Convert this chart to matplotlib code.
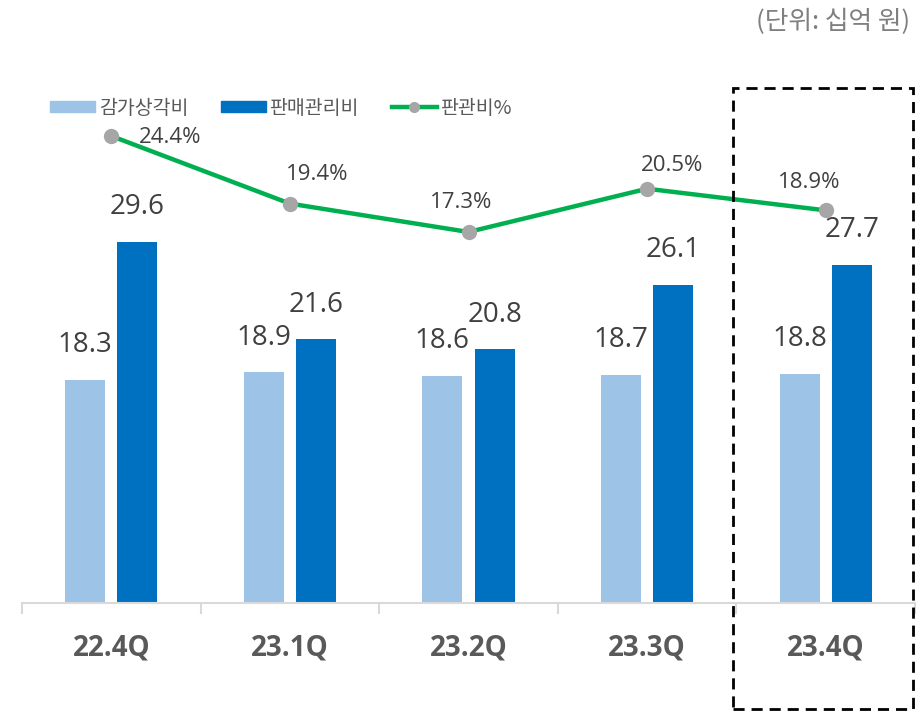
import matplotlib
matplotlib.use("Agg")
import matplotlib.pyplot as plt
from matplotlib.patches import Patch, Rectangle
from matplotlib.lines import Line2D
import numpy as np

plt.rcParams['font.family'] = ['Noto Sans CJK KR', 'DejaVu Sans']

categories = ["22.4Q", "23.1Q", "23.2Q", "23.3Q", "23.4Q"]
depreciation = [18.3, 18.9, 18.6, 18.7, 18.8]
sga = [29.6, 21.6, 20.8, 26.1, 27.7]
sga_ratio = [24.4, 19.4, 17.3, 20.5, 18.9]
series_names = ["감가상각비", "판매관리비", "판관비%"]
unit_text = "(단위: 십억 원)"

# label offsets for the ratio labels (points)
ratio_offsets = [(42, -1), (20, 21), (-5, 21), (18, 17), (-12, 20)]

W, H = 920, 713
fig = plt.figure(figsize=(W / 100, H / 100), dpi=100)

ax_left, ax_right = 22, 915
ax_bottom = 603
ax = fig.add_axes([ax_left / W, (H - ax_bottom) / H, (ax_right - ax_left) / W, ax_bottom / H])
ax2 = ax.twinx()

x = np.arange(len(categories))
bw = 0.224
off = 0.146
light = "#9dc3e6"
dark = "#0070c0"
green = "#00b050"

b1 = ax.bar(x - off, depreciation, bw, color=light, zorder=2)
b2 = ax.bar(x + off, sga, bw, color=dark, zorder=2)

px_per_unit = 12.2
ax.set_ylim(0, ax_bottom / px_per_unit)
ax.set_xlim(-0.5, len(categories) - 0.5)

# secondary axis for ratio
px_per_pct = 13.52
y_top_pix = 136
top2 = sga_ratio[0] + y_top_pix / px_per_pct
bot2 = sga_ratio[0] - (ax_bottom - y_top_pix) / px_per_pct
ax2.set_ylim(bot2, top2)
ax2.plot(x, sga_ratio, color=green, lw=3.2, marker='o', ms=10,
         mfc="#a6a6a6", mec="#a6a6a6", zorder=3)
ax2.axis('off')

for xi, v in zip(x, depreciation):
    ax.annotate(f"{v:.1f}", (xi - off, v), xytext=(0, 25), textcoords='offset points',
                ha='center', va='center', fontsize=20, color='#404040',
                family=['Open Sans', 'DejaVu Sans'])
for xi, v in zip(x, sga):
    ax.annotate(f"{v:.1f}", (xi + off, v), xytext=(0, 25), textcoords='offset points',
                ha='center', va='center', fontsize=20, color='#404040',
                family=['Open Sans', 'DejaVu Sans'])
for xi, v, o in zip(x, sga_ratio, ratio_offsets):
    ax2.annotate(f"{v:.1f}%", (xi, v), xytext=o, textcoords='offset points',
                 ha='center', va='center', fontsize=16, color='#404040',
                 family=['Open Sans', 'DejaVu Sans'])

for s in ['top', 'right', 'left']:
    ax.spines[s].set_visible(False)
ax.spines['bottom'].set_color('#d9d9d9')
ax.spines['bottom'].set_linewidth(1.5)
ax.set_yticks([])
ax.set_xticks(x)
ax.set_xticklabels(categories, fontsize=20, fontweight='bold', color='#595959',
                   family=['Open Sans', 'DejaVu Sans'])
ax.tick_params(axis='x', which='major', length=0, pad=22)
ax.set_xticks(np.arange(-0.5, len(categories)), minor=True)
ax.tick_params(axis='x', which='minor', length=8, width=1.5, color='#d9d9d9')

handles = [Patch(color=light), Patch(color=dark),
           Line2D([0], [0], color=green, lw=3.2, marker='o', ms=7,
                  mfc="#a6a6a6", mec="#a6a6a6")]
fig.legend(handles, series_names, loc='center left',
           bbox_to_anchor=(50 / W, 1 - 108 / H), ncol=3, frameon=False,
           fontsize=14, handlelength=2.3, handleheight=0.55, handletextpad=0.2,
           columnspacing=1.7, borderpad=0, borderaxespad=0,
           labelcolor='#595959')

fig.text(910 / W, 1 - 22 / H, unit_text, ha='right', va='center',
         fontsize=18.5, color='#7f7f7f')

# dashed highlight box
bx0, bx1, by0, by1 = 733, 913, 88, 709
fig.patches.append(Rectangle((bx0 / W, 1 - by1 / H), (bx1 - bx0) / W, (by1 - by0) / H,
                             transform=fig.transFigure, fill=False, ec='black',
                             lw=2, ls=(0, (4, 2.5)), zorder=10))

fig.savefig("out.png", dpi=100)
